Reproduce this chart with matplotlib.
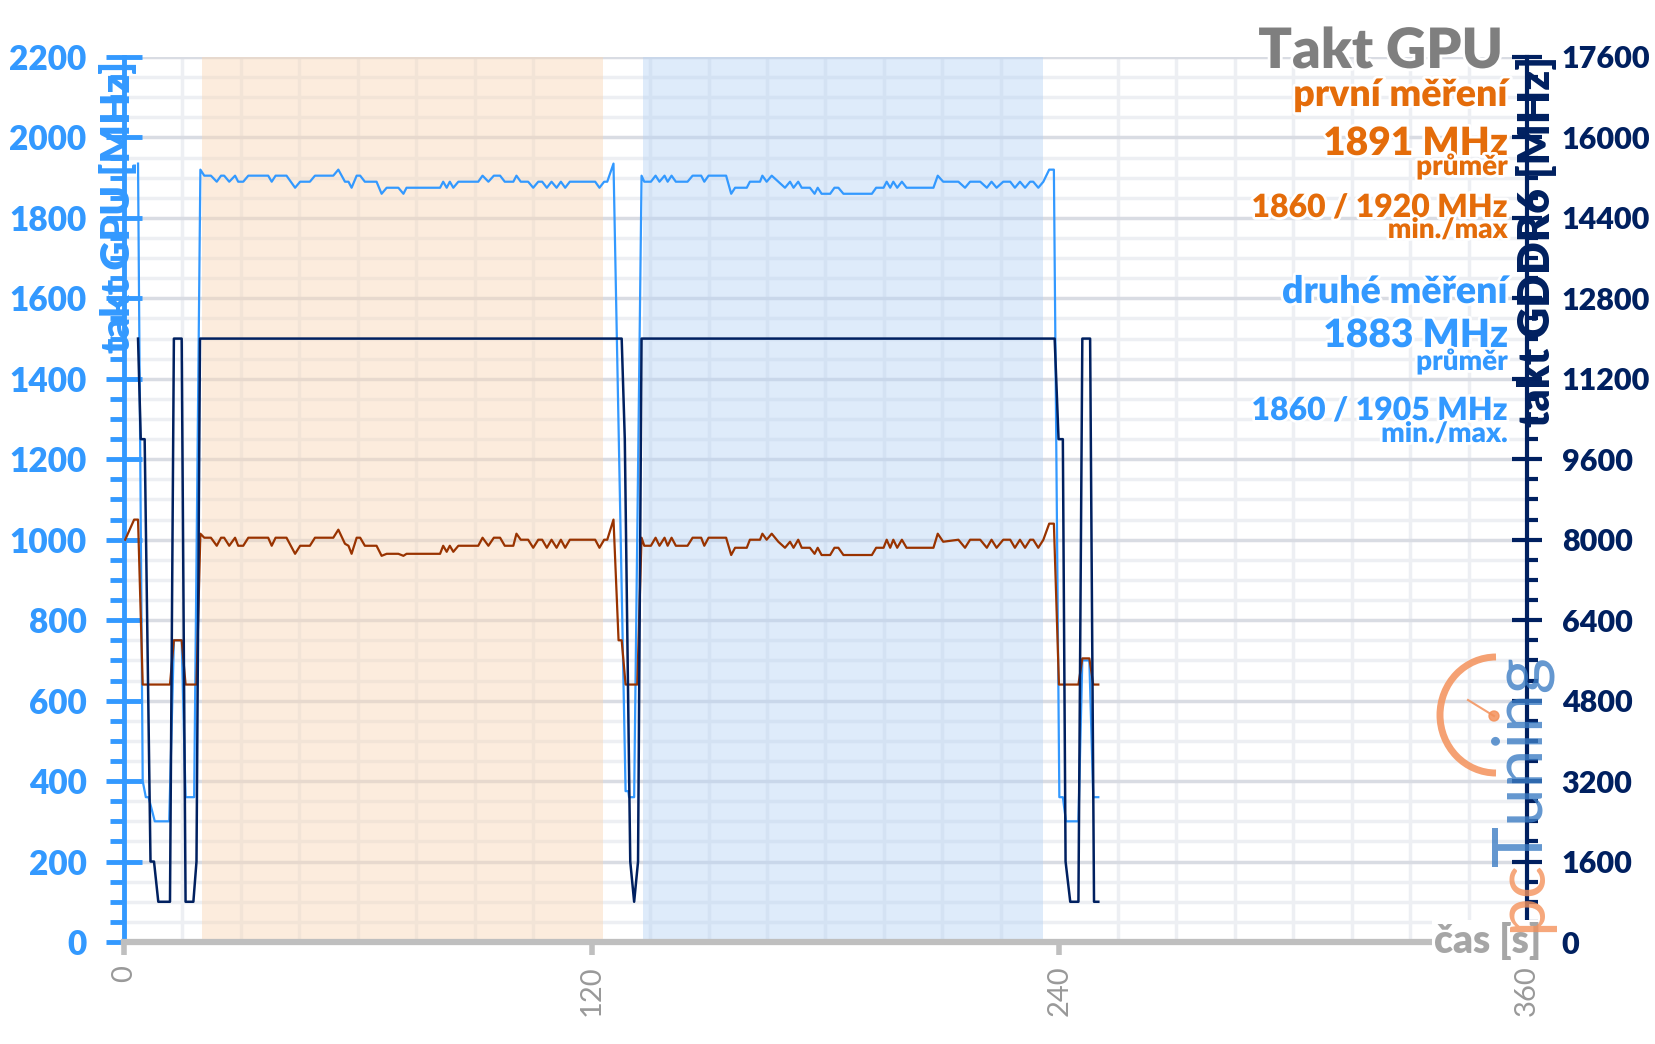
import numpy as np
import matplotlib.pyplot as plt
import matplotlib.patheffects as pe
from matplotlib.patches import Arc, Circle
from matplotlib.transforms import IdentityTransform
from matplotlib.ticker import MultipleLocator

plt.rcParams['font.family'] = ['Lato', 'DejaVu Sans']

# GPU clock, light blue line (time [s], MHz)
gpu_t = [3.6, 4.8, 5.6, 6.3, 7.9, 11.6, 12.8, 14.8, 15.8, 18.0, 19.6,
         20.6, 22.3, 23.8, 24.9, 25.7, 27.0, 28.5, 29.3, 30.6, 31.9, 37.0,
         37.9, 38.9, 41.7, 43.9, 45.2, 47.7, 49.0, 53.7, 55.0, 56.7, 57.6,
         58.4, 59.7, 60.6, 61.8, 64.8, 66.1, 67.4, 70.4, 71.7, 72.5, 81.1,
         81.9, 82.8, 83.6, 84.5, 85.8, 90.9, 92.0, 93.5, 94.9, 96.5, 97.7,
         99.9, 100.7, 101.8, 103.7, 105.0, 106.3, 107.3, 108.5, 109.7, 111.0,
         112.1, 113.2, 114.4, 120.9, 122.0, 123.2, 124.0, 125.6,
         128.7, 129.4, 129.6, 130.9,
         132.8, 133.5, 135.2, 136.4, 137.4, 138.7, 139.5, 140.5, 141.6, 144.6,
         145.9, 148.1, 148.9, 150.0, 154.5, 155.8, 156.8, 159.8, 160.6, 163.2,
         163.8, 164.9, 166.2, 167.9, 169.6, 170.9, 171.8, 173.0, 173.9, 176.0,
         177.2, 178.0, 179.0, 181.2, 182.3, 183.3, 184.6, 191.9, 193.0, 194.9,
         195.7, 196.6, 197.4, 198.4, 199.6, 200.8, 207.7, 208.8, 210.2, 214.1,
         215.8, 217.1, 219.7, 221.4, 222.6, 223.9, 225.6, 227.4, 228.6, 229.9,
         231.2, 232.5, 233.3, 234.6, 235.9, 237.4, 238.6,
         240.0, 240.9, 241.7, 244.9, 245.9, 247.7, 248.7, 250.0]
gpu_mhz = [1935, 400, 360, 360, 300, 300, 750, 750, 360, 360, 1920,
           1905, 1905, 1890, 1905, 1905, 1890, 1905, 1890, 1890, 1905, 1905,
           1890, 1905, 1905, 1875, 1890, 1890, 1905, 1905, 1920, 1890, 1890,
           1875, 1905, 1905, 1890, 1890, 1860, 1875, 1875, 1860, 1875, 1875,
           1890, 1875, 1890, 1875, 1890, 1890, 1905, 1890, 1905, 1905, 1890,
           1890, 1905, 1890, 1890, 1875, 1890, 1890, 1875, 1890, 1875,
           1890, 1875, 1890, 1890, 1875, 1890, 1890, 1935,
           375, 375, 360, 360,
           1905, 1890, 1890, 1905, 1890, 1905, 1890, 1905, 1890, 1890,
           1905, 1905, 1890, 1905, 1905, 1860, 1875, 1875, 1890, 1890,
           1905, 1890, 1905, 1890, 1875, 1890, 1875, 1890, 1875, 1875,
           1860, 1875, 1860, 1860, 1875, 1875, 1860, 1860, 1875, 1875,
           1890, 1875, 1890, 1875, 1890, 1875, 1875, 1905, 1890, 1890,
           1875, 1890, 1890, 1875, 1890, 1875, 1890, 1890, 1875, 1890,
           1875, 1890, 1890, 1875, 1890, 1920, 1920,
           360, 360, 300, 300, 700, 700, 360, 360]

# second clock trace, brown line
brown_t = [0.3, 2.6, 3.6, 4.8, 11.8, 12.8, 14.8, 15.8, 18.6, 19.6,
           20.6, 22.3, 23.8, 24.9, 25.7, 27.0, 28.5, 29.3, 30.6, 31.9, 37.0,
           37.9, 38.9, 41.7, 43.9, 45.2, 47.7, 49.0, 53.7, 55.0, 56.7, 57.6,
           58.4, 59.7, 60.6, 61.8, 64.8, 66.1, 67.4, 70.4, 71.7, 72.5, 81.1,
           81.9, 82.8, 83.6, 84.5, 85.8, 90.9, 92.0, 93.5, 94.9, 96.5, 97.7,
           99.9, 100.7, 101.8, 103.7, 105.0, 106.3, 107.3, 108.5, 109.7, 111.0,
           112.1, 113.2, 114.4, 120.9, 122.0, 123.2, 124.0, 125.6,
           126.9, 127.7, 128.7, 131.7,
           132.8, 133.5, 135.2, 136.4, 137.4, 138.7, 139.5, 140.5, 141.6, 144.6,
           145.9, 148.1, 148.9, 150.0, 154.5, 155.8, 156.8, 159.8, 160.6, 163.2,
           163.8, 164.9, 166.2, 167.9, 169.6, 170.9, 171.8, 173.0, 173.9, 176.0,
           177.2, 178.0, 179.0, 181.2, 182.3, 183.3, 184.6, 191.9, 193.0, 194.9,
           195.7, 196.6, 197.4, 198.4, 199.6, 200.8, 207.7, 208.8, 210.2, 214.1,
           215.8, 217.1, 219.7, 221.4, 222.6, 223.9, 225.6, 227.4, 228.6, 229.9,
           231.2, 232.5, 233.3, 234.6, 235.9, 237.4, 238.6,
           239.9, 244.9, 245.9, 247.7, 248.7, 250.0]
brown_mhz = [1000, 1050, 1050, 640, 640, 750, 750, 640, 640, 1015,
             1005, 1005, 985, 1005, 1005, 985, 1005, 985, 985, 1005, 1005,
             985, 1005, 1005, 965, 985, 985, 1005, 1005, 1025, 990, 985,
             965, 1005, 1005, 985, 985, 960, 965, 965, 960, 965, 965,
             985, 970, 985, 970, 985, 985, 1005, 985, 1005, 1005, 985,
             985, 1015, 1000, 1000, 980, 1000, 1000, 980, 1000, 980,
             1000, 980, 1000, 1000, 980, 1000, 1000, 1050,
             750, 750, 640, 640,
             1005, 985, 985, 1005, 985, 1005, 985, 1005, 985, 985,
             1005, 1005, 985, 1005, 1005, 962, 980, 980, 1000, 1000,
             1015, 1000, 1015, 995, 980, 995, 980, 1000, 980, 980,
             965, 980, 962, 962, 980, 980, 962, 962, 980, 980,
             1000, 980, 1000, 980, 1000, 980, 980, 1015, 995, 1000,
             980, 1000, 1000, 980, 1000, 980, 1000, 1000, 980, 1000,
             980, 1000, 1000, 980, 1000, 1040, 1040,
             640, 640, 705, 705, 640, 640]

# GDDR6 memory clock, right axis
mem_t = [3.6, 4.3, 5.3, 6.8, 7.7, 8.8, 11.8, 12.8, 14.8, 15.8, 17.8, 18.6,
         19.5, 127.7, 128.5, 129.9, 130.9, 131.9, 132.8, 238.8, 239.8, 240.9,
         241.6, 242.8, 244.9, 245.9, 247.9, 248.9, 250.0]
mem_mhz = [12000, 10000, 10000, 1600, 1600, 800, 800, 12000, 12000, 800, 800,
           1600, 12000, 12000, 10000, 1600, 800, 1600, 12000, 12000, 10000,
           10000, 1600, 800, 800, 12000, 12000, 800, 800]

# test windows (s)
span_first = (20.1, 122.8)
span_second = (133.3, 235.9)

BLUE = '#3399FF'
NAVY = '#002060'
BROWN = '#993300'
ORANGE = '#E46C0A'
GRAY = '#7F7F7F'
WEIGHT = 'heavy'

W, H = 1656, 1044
fig = plt.figure(figsize=(W / 100, H / 100), dpi=100)
ax = fig.add_axes([124 / W, 1 - 942 / H, (1527 - 124) / W, (942 - 57) / H])
ax2 = ax.twinx()

ax.set_xlim(0, 360)
ax.set_ylim(0, 2200)
ax2.set_ylim(0, 17600)

ax.set_axisbelow(True)
ax.axvspan(*span_first, color='#FAD7B5', alpha=0.45, lw=0, zorder=1)
ax.axvspan(*span_second, color='#B6D3F4', alpha=0.45, lw=0, zorder=1)

ax.yaxis.set_major_locator(MultipleLocator(200))
ax.yaxis.set_minor_locator(MultipleLocator(50))
ax.xaxis.set_major_locator(MultipleLocator(120))
ax.xaxis.set_minor_locator(MultipleLocator(15))
ax.grid(True, which='major', axis='y', color='#D9DCE3', lw=2.5)
ax.grid(True, which='minor', axis='y', color='#EDEFF3', lw=2.5)
ax.grid(True, which='minor', axis='x', color='#EDEFF3', lw=2.5)
ax2.yaxis.set_major_locator(MultipleLocator(1600))
ax2.yaxis.set_minor_locator(MultipleLocator(400))

ax.plot(gpu_t, gpu_mhz, color=BLUE, lw=1.6, zorder=3)
ax.plot(brown_t, brown_mhz, color=BROWN, lw=1.6, zorder=3)
ax2.plot(mem_t, mem_mhz, color=NAVY, lw=1.8, zorder=3)

ax.spines['top'].set_visible(False)
ax2.spines['top'].set_visible(False)
ax2.spines['left'].set_visible(False)
ax2.spines['bottom'].set_visible(False)
ax.spines['right'].set_visible(False)
ax.spines['left'].set_color(BLUE)
ax.spines['left'].set_linewidth(3.5)
ax.spines['bottom'].set_color('#BFBFBF')
ax.spines['bottom'].set_linewidth(4.5)
ax2.spines['right'].set_color(NAVY)
ax2.spines['right'].set_linewidth(3)

ax.tick_params(axis='y', which='major', direction='inout', length=26, width=3.5,
               colors=BLUE, labelsize=24, pad=14)
ax.tick_params(axis='y', which='minor', direction='out', length=10, width=3.5,
               colors=BLUE)
ax.tick_params(axis='x', which='major', direction='out', length=9, width=4,
               colors='#BFBFBF', labelcolor='#999999', labelsize=21,
               labelrotation=90, pad=8)
ax.tick_params(axis='x', which='minor', length=0)
ax2.tick_params(axis='y', which='major', direction='inout', length=22, width=3,
                colors=NAVY, labelsize=22, pad=14)
ax2.tick_params(axis='y', which='minor', direction='out', length=8, width=3,
                colors=NAVY)
for lab in ax.get_yticklabels() + ax2.get_yticklabels():
    lab.set_fontweight(WEIGHT)


def fx(x):
    return x / W


def fy(y):
    return 1 - y / H


halo = [pe.withStroke(linewidth=4, foreground='white')]

# axis titles
fig.text(fx(118), fy(207), 'takt GPU [MHz]', rotation=90, color=BLUE,
         fontsize=29, fontweight=WEIGHT, ha='center', va='center')
fig.text(fx(1537), fy(241), 'takt GDDR6 [MHz]', rotation=90, color=NAVY,
         fontsize=31, fontweight=WEIGHT, ha='center', va='center')
fig.text(fx(1541), fy(953), 'čas [s]', color='#A6A6A6', fontsize=28,
         fontweight=WEIGHT, ha='right', va='baseline',
         bbox=dict(boxstyle='square,pad=0.05', fc='white', ec='none'))

# summary block
R = fx(1508)
fig.text(fx(1503), fy(68), 'Takt GPU', color=GRAY, fontsize=40,
         fontweight=WEIGHT, ha='right', va='baseline', path_effects=halo)
summary = [
    ('první měření', ORANGE, 27, 106),
    ('1891 MHz', ORANGE, 28, 155),
    ('průměr', ORANGE, 20, 175),
    ('1860 / 1920 MHz', ORANGE, 23, 217),
    ('min./max', ORANGE, 20, 238),
    ('druhé měření', BLUE, 27, 303),
    ('1883 MHz', BLUE, 28, 347),
    ('průměr', BLUE, 20, 370),
    ('1860 / 1905 MHz', BLUE, 23, 420),
    ('min./max.', BLUE, 20, 442),
]
for txt, col, size, base in summary:
    fig.text(R, fy(base), txt, color=col, fontsize=size, fontweight=WEIGHT,
             ha='right', va='baseline', path_effects=halo)

# pcTuning watermark
ident = IdentityTransform()
fig.add_artist(Arc((1496, H - 715), 112, 116, theta1=90, theta2=270,
                   color='#F4915A', lw=5, alpha=0.85, transform=ident))
fig.add_artist(Circle((1494, H - 716), 5, color='#F4915A', alpha=0.85,
                      transform=ident))
fig.lines.append(plt.Line2D([1468, 1494], [H - 700, H - 716], color='#F4915A',
                            lw=1.5, alpha=0.85, transform=ident))
fig.text(fx(1522), fy(866), 'Tuning', rotation=90, color='#3C7DC4', alpha=0.8,
         fontsize=50, fontweight='normal', ha='center', va='bottom')
fig.text(fx(1522), fy(932), 'pc', rotation=90, color='#F4915A', alpha=0.8,
         fontsize=50, fontweight='normal', ha='center', va='bottom')

fig.savefig('out.png', dpi=100)
